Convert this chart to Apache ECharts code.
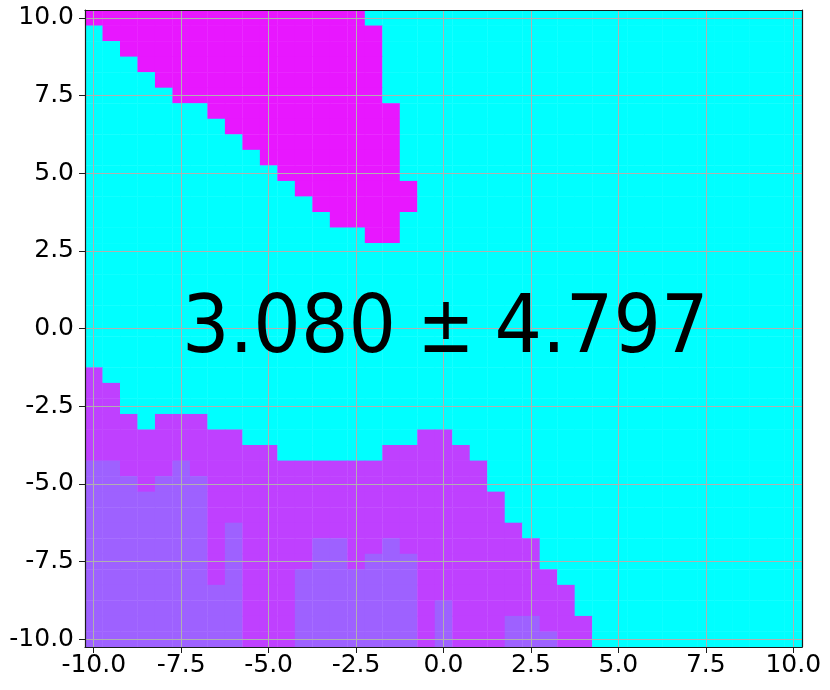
<!DOCTYPE html>
<html>
<head>
<meta charset="utf-8">
<script src="https://cdn.jsdelivr.net/npm/echarts@6/dist/echarts.min.js"></script>
<style>html,body{margin:0;padding:0;background:#fff}#chart{width:830px;height:690px}</style>
</head>
<body>
<div id="chart"></div>
<script>
// Cell centres (0.5 grid) along x and y (top row first)
const xCenters = [-10,-9.5,-9,-8.5,-8,-7.5,-7,-6.5,-6,-5.5,-5,-4.5,-4,-3.5,-3,-2.5,-2,-1.5,-1,-0.5,0,0.5,1,1.5,2,2.5,3,3.5,4,4.5,5,5.5,6,6.5,7,7.5,8,8.5,9,9.5,10];
const yCenters = [10,9.5,9,8.5,8,7.5,7,6.5,6,5.5,5,4.5,4,3.5,3,2.5,2,1.5,1,0.5,0,-0.5,-1,-1.5,-2,-2.5,-3,-3.5,-4,-4.5,-5,-5.5,-6,-6.5,-7,-7.5,-8,-8.5,-9,-9.5,-10];
// Run-length rows of cell classes (c cyan, m magenta, p purple, l lavender)
const rowRuns = [
  "m16 c25","c1 m16 c24","c2 m15 c24","c3 m14 c24","c4 m13 c24","c5 m12 c24",
  "c7 m11 c23","c8 m10 c23","c9 m9 c23","c10 m8 c23","c11 m7 c23","c12 m7 c22",
  "c13 m6 c22","c14 m4 c23","c16 m2 c23",
  "c41","c41","c41","c41","c41","c41","c41","c41",
  "p1 c40","p2 c39","p2 c39","p3 c1 p3 c34","p9 c10 p2 c20","p11 c6 p5 c19",
  "l2 p3 l1 p17 c18","l3 p1 l3 p16 c18","l7 p17 c17","l7 p17 c17",
  "l7 p1 l1 p16 c16","l7 p1 l1 p4 l2 p2 l1 p8 c15","l7 p1 l1 p4 l2 p1 l3 p7 c15",
  "l7 p1 l1 p3 l7 p8 c14","l9 p3 l7 p9 c13","l9 p3 l7 p1 l1 p7 c13",
  "l9 p3 l7 p1 l1 p3 l2 p3 c12","l9 p3 l7 p1 l1 p3 l3 p2 c12"
];
const classValue = {c: 0.0, m: 0.91, p: 0.75, l: 0.62};
const tickValues = [-10, -7.5, -5, -2.5, 0, 2.5, 5, 7.5, 10];
const tickLabels = ['-10.0', '-7.5', '-5.0', '-2.5', '0.0', '2.5', '5.0', '7.5', '10.0'];
const annotationParts = ['3.080', '\u00b1', '4.797'];

const cells = [];
rowRuns.forEach(function (runs, r) {
  let col = 0;
  runs.split(' ').forEach(function (tok) {
    const k = tok[0], n = parseInt(tok.slice(1), 10);
    for (let t = 0; t < n; t++) { cells.push([xCenters[col], yCenters[r], classValue[k]]); col++; }
  });
});

const halfX = (xCenters[1] - xCenters[0]) / 2;
const halfY = (yCenters[0] - yCenters[1]) / 2;
const lim = 10.25;
const fmt = function (v) { const i = tickValues.indexOf(v); return i >= 0 ? tickLabels[i] : ''; };
const spine = {show: true, onZero: false, lineStyle: {color: '#1a1a1a', width: 1.2}};
const lblFont = {fontSize: 25, color: '#000', fontFamily: 'DejaVu Sans'};
const bigFont = '80px "DejaVu Sans"';

const chart = echarts.init(document.getElementById('chart'), null, {renderer: 'canvas'});
chart.setOption({
  animation: false,
  backgroundColor: '#fff',
  grid: {left: 85, top: 10, width: 717, height: 637, containLabel: false},
  visualMap: {show: false, type: 'continuous', min: 0, max: 1, dimension: 2,
    inRange: {color: ['#00ffff', '#ff00ff']}},
  xAxis: [
    {type: 'value', min: -lim, max: lim, z: 3, axisLine: spine,
      axisTick: {show: true, customValues: tickValues, length: 6, lineStyle: {color: '#1a1a1a'}},
      axisLabel: Object.assign({customValues: tickValues, formatter: fmt, margin: 6}, lblFont),
      splitLine: {show: true, lineStyle: {color: '#b0b0b0', width: 1}}},
    {type: 'value', position: 'top', min: -lim, max: lim, z: 3, axisLine: spine,
      axisTick: {show: false}, axisLabel: {show: false}, splitLine: {show: false}}
  ],
  yAxis: [
    {type: 'value', min: -lim, max: lim, z: 3, axisLine: spine,
      axisTick: {show: true, customValues: tickValues, length: 6, lineStyle: {color: '#1a1a1a'}},
      axisLabel: Object.assign({customValues: tickValues, formatter: fmt, margin: 11}, lblFont),
      splitLine: {show: true, lineStyle: {color: '#b0b0b0', width: 1}}},
    {type: 'value', position: 'right', min: -lim, max: lim, z: 3, axisLine: spine,
      axisTick: {show: false}, axisLabel: {show: false}, splitLine: {show: false}}
  ],
  series: [{
    type: 'custom',
    z: 1,
    data: cells,
    encode: {x: 0, y: 1},
    renderItem: function (params, api) {
      const x = api.value(0), y = api.value(1);
      const a = api.coord([x - halfX, y + halfY]);
      const b = api.coord([x + halfX, y - halfY]);
      return {type: 'rect',
        shape: {x: a[0], y: a[1], width: b[0] - a[0] + 0.4, height: b[1] - a[1] + 0.4},
        style: {fill: api.visual('color')}};
    }
  }],
  graphic: [
    {type: 'text', z: 100, x: 289, y: 331, scaleX: 0.935,
      style: {text: annotationParts[0], fill: '#000', font: bigFont, textAlign: 'center', textVerticalAlign: 'middle'}},
    {type: 'text', z: 100, x: 446, y: 331, scaleX: 0.85,
      style: {text: annotationParts[1], fill: '#000', font: bigFont, textAlign: 'center', textVerticalAlign: 'middle'}},
    {type: 'text', z: 100, x: 601.5, y: 331, scaleX: 0.935,
      style: {text: annotationParts[2], fill: '#000', font: bigFont, textAlign: 'center', textVerticalAlign: 'middle'}}
  ]
});
</script>
</body>
</html>
